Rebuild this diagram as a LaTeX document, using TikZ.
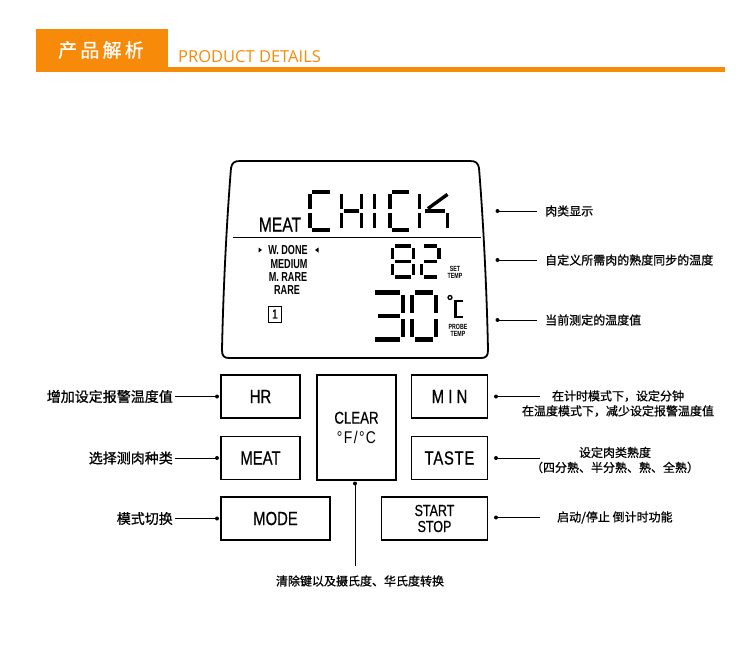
\documentclass[tikz,border=0pt]{standalone}
\usepackage{fontspec}
\setmainfont{Liberation Sans}
\newfontfamily\cjk{Noto Sans CJK SC}
\newfontfamily\cjkm[FakeBold=0.8]{Noto Sans CJK SC}
\newfontfamily\cond[FakeStretch=0.78,FakeBold=0.6]{Liberation Sans}
\newfontfamily\condl[FakeStretch=0.82]{Liberation Sans}
\newfontfamily\condn[FakeStretch=0.70]{Liberation Sans}
\newfontfamily\hdr{Open Sans}
\definecolor{brand}{RGB}{248,138,10}
\tikzset{
  segline/.style={line width=\lw pt, line cap=butt},
  btn/.style={draw, line width=1.8pt, inner sep=0pt, align=center},
  lcdtxt/.style={inner sep=0pt},
  lbl/.style={inner sep=0pt, font=\fontsize{12}{15}\selectfont\cjkm, align=center},
  biglbl/.style={inner sep=0pt, font=\fontsize{14}{16}\selectfont\cjkm},
  conn/.style={line width=0.8pt},
  dotmark/.style={fill=black}
}
\newcommand\SegCell[7]{%
  \def\cx{#1}\def\cy{#2}\def\cw{#3}\def\ch{#4}\def\gp{#5}\def\lw{#6}%
  \foreach \s in {#7}{\csname Seg\s\endcsname}}
\newcommand\Sega{\draw[segline] ({\cx+\gp},{\cy}) -- ({\cx+\cw-\gp},{\cy});}
\newcommand\Segb{\draw[segline] ({\cx+\cw},{\cy+\gp}) -- ({\cx+\cw},{\cy+\ch/2-\gp});}
\newcommand\Segc{\draw[segline] ({\cx+\cw},{\cy+\ch/2+\gp}) -- ({\cx+\cw},{\cy+\ch-\gp});}
\newcommand\Segd{\draw[segline] ({\cx+\gp},{\cy+\ch}) -- ({\cx+\cw-\gp},{\cy+\ch});}
\newcommand\Sege{\draw[segline] ({\cx},{\cy+\ch/2+\gp}) -- ({\cx},{\cy+\ch-\gp});}
\newcommand\Segf{\draw[segline] ({\cx},{\cy+\gp}) -- ({\cx},{\cy+\ch/2-\gp});}
\newcommand\Segg{\draw[segline] ({\cx+\gp},{\cy+\ch/2}) -- ({\cx+\cw-\gp},{\cy+\ch/2});}
\newcommand\Segh{\draw[segline] ({\cx+\gp+3},{\cy+\ch/2}) -- ({\cx+\cw-\gp},{\cy+\ch/2});}
\newcommand\Segi{\draw[segline] ({\cx+\cw/2},{\cy+\gp}) -- ({\cx+\cw/2},{\cy+\ch/2-\gp});}
\newcommand\Segj{\draw[segline] ({\cx+\cw/2},{\cy+\ch/2+\gp}) -- ({\cx+\cw/2},{\cy+\ch-\gp});}
\newcommand\Segk{\draw[segline] ({\cx+\cw*0.3},{\cy+\ch/2-\gp}) -- ({\cx+\cw},{\cy+\gp});}
\begin{document}
\begin{tikzpicture}[x=1pt,y=-1pt]
\useasboundingbox (0,0) rectangle (750,656);
% header
\fill[brand] (36,29) rectangle (168,72);
\fill[brand] (168,67) rectangle (725,71.5);
\node[inner sep=0pt, text=white, font=\fontsize{19}{20}\selectfont\cjkm] (title) at (101,50) {产\,品\,解\,析};
\node[inner sep=0pt, anchor=base west, text=brand, font=\fontsize{16.5}{18}\selectfont\hdr] (subtitle) at (178,62) {PRODUCT DETAILS};
% LCD outline
\draw[line width=1.8pt] (248,161) -- (470,161) .. controls (476,161) and (478,163) .. (479,168)
  .. controls (484,230) and (487,300) .. (488,350) .. controls (488,356) and (486,358) .. (481,358)
  -- (229,358) .. controls (224,358) and (222,356) .. (222,350)
  .. controls (223,300) and (226,230) .. (231,168) .. controls (232,163) and (234,161) .. (240,161) -- cycle;
\draw[line width=0.9pt] (233,237.5) -- (481,237.5);
\node[lcdtxt, anchor=base, font=\fontsize{20}{22}\selectfont\cond] (meat) at (280,231.5) {MEAT};
% CHICK
\SegCell{310}{192}{22}{38}{2.4}{3.4}{a,d,e,f}
\SegCell{341.5}{192}{20}{38}{2.4}{3.4}{b,c,e,f,g}
\SegCell{364.5}{192}{20}{38}{2.4}{3.4}{i,j}
\SegCell{390}{192}{21}{38}{2.4}{3.4}{a,d,e,f}
\SegCell{419.5}{192}{28}{38}{2.4}{3.4}{e,f,h,k,c}
% doneness list
\begin{scope}[every node/.style={lcdtxt, font=\fontsize{13}{14}\selectfont\condn\bfseries}]
\node (wdone) at (288,250) {W. DONE};
\node (medium) at (289,264) {MEDIUM};
\node (mrare) at (288,277) {M. RARE};
\node (rare) at (287,290) {RARE};
\end{scope}
\fill (258.5,247.5) -- (262,250) -- (258.5,252.5) -- cycle;
\fill (318.5,247.5) -- (315,250) -- (318.5,252.5) -- cycle;
\node[draw, line width=0.8pt, inner sep=1pt, minimum width=13pt, minimum height=16pt, font=\fontsize{13}{14}\selectfont\cond] (one) at (275,314) {1};
% 82
\SegCell{392.5}{246}{21}{31}{2.4}{3.4}{a,b,c,d,e,f,g}
\SegCell{421.5}{246}{17.5}{31}{2.4}{3.4}{a,b,g,e,d}
\node[lcdtxt, font=\fontsize{7.5}{8}\selectfont\condn\bfseries, align=center] (settemp) at (455,272.5) {SET\\[-1pt]TEMP};
% 30
\SegCell{372}{292.5}{31}{47}{2.8}{4.6}{a,b,c,d,h}
\SegCell{412}{292.5}{24}{47}{2.8}{4.6}{a,b,c,d,e,f}
\draw[line width=1.3pt] (450,297.5) circle (2);
\draw[line width=2.2pt] (462.5,301) -- (455.5,301) -- (455.5,317) -- (462.5,317);
\node[lcdtxt, font=\fontsize{7.5}{8}\selectfont\condn\bfseries, align=center] (probetemp) at (458,330) {PROBE\\[-1pt]TEMP};
% right LCD labels
\node[lbl, anchor=west] (lblmeat) at (545,211) {肉类显示};
\node[lbl, anchor=west] (lblset) at (545,260) {自定义所需肉的熟度同步的温度};
\node[lbl, anchor=west] (lblprobe) at (545,320) {当前测定的温度值};
\coordinate (d1) at (497.5,211); \coordinate (d2) at (497.5,260); \coordinate (d3) at (497.5,320);
\draw[conn] (d1) -- (lblmeat.west -| 537,0);
\draw[conn] (d2) -- (lblset.west -| 537,0);
\draw[conn] (d3) -- (lblprobe.west -| 537,0);
\foreach \d in {d1,d2,d3} \fill[dotmark] (\d) circle (2);
% buttons
\node[btn, minimum width=79pt, minimum height=43pt, font=\fontsize{19}{20}\selectfont\cond] (hr) at (260.5,396.5) {HR};
\node[btn, minimum width=79pt, minimum height=43pt, font=\fontsize{19}{20}\selectfont\cond] (bmeat) at (260.5,458) {MEAT};
\node[btn, minimum width=109pt, minimum height=43pt, font=\fontsize{19}{20}\selectfont\cond] (mode) at (275.5,518.5) {MODE};
\node[btn, minimum width=79pt, minimum height=105pt, font=\fontsize{17}{19.5}\selectfont\cond] (clear) at (356.5,427.5) {CLEAR\\{\condl\addfontfeature{LetterSpace=8}°F/°C}};
\node[btn, minimum width=76pt, minimum height=43pt, font=\fontsize{19}{20}\selectfont\cond\addfontfeature{LetterSpace=22}] (min) at (449.5,396.5) {MIN};
\node[btn, minimum width=76pt, minimum height=43pt, font=\fontsize{19}{20}\selectfont\cond\addfontfeature{LetterSpace=4}] (taste) at (449.5,458) {TASTE};
\node[btn, minimum width=106pt, minimum height=43pt, font=\fontsize{16}{16}\selectfont\cond] (start) at (434.5,518.5) {START\\STOP};
% left labels
\node[biglbl, anchor=east] (lblhr) at (173,396.5) {增加设定报警温度值};
\node[biglbl, anchor=east] (lblmeatb) at (173,458) {选择测肉种类};
\node[biglbl, anchor=east] (lblmode) at (173,518.5) {模式切换};
\coordinate (dhr) at (217,396.5); \coordinate (dmeat) at (217,458); \coordinate (dmode) at (217,518.5);
\draw[conn] (lblhr.east) ++(2,0) -- (dhr);
\draw[conn] (lblmeatb.east) ++(2,0) -- (dmeat);
\draw[conn] (lblmode.east) ++(2,0) -- (dmode);
\foreach \d in {dhr,dmeat,dmode} \fill[dotmark] (\d) circle (2);
% right button labels
\node[lbl] (lblmin) at (618,403.5) {在计时模式下，设定分钟\\在温度模式下，减少设定报警温度值};
\node[lbl] (lbltaste) at (615,460) {设定肉类熟度\\（四分熟、半分熟、熟、全熟）};
\node[lbl, anchor=west] (lblstart) at (557,517.5) {启动/停止 倒计时功能};
\coordinate (dmin) at (496,396.5); \coordinate (dtaste) at (496,458); \coordinate (dstart) at (496,517.5);
\coordinate (emin) at (540,396.5); \coordinate (etaste) at (540,458); \coordinate (estart) at (540,517.5);
\draw[conn] (dmin) -- (emin);
\draw[conn] (dtaste) -- (etaste);
\draw[conn] (dstart) -- (estart);
\foreach \d in {dmin,dtaste,dstart} \fill[dotmark] (\d) circle (2);
% clear label
\node[lbl] (lblclear) at (360,581) {清除键以及摄氏度、华氏度转换};
\coordinate (dclear) at (355,483.5);
\coordinate (eclear) at (355,566);
\draw[conn] (dclear) -- (eclear);
\fill[dotmark] (dclear) circle (2);
\end{tikzpicture}
\end{document}
